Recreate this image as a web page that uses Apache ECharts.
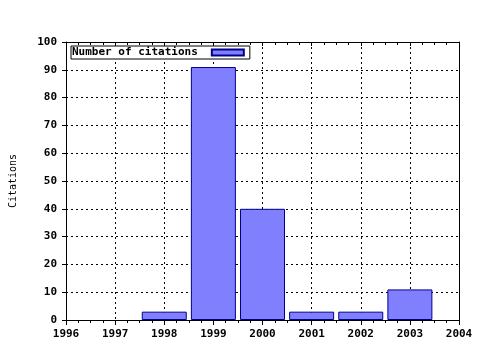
<!DOCTYPE html>
<html><head><meta charset="utf-8">
<script src="https://cdn.jsdelivr.net/npm/echarts@6/dist/echarts.min.js"></script>
<style>html,body{margin:0;padding:0;background:#fff}#c{width:480px;height:350px}</style>
</head><body><div id="c"></div>
<script>
const years = [1998, 1999, 2000, 2001, 2002, 2003];
const citations = [3, 91, 40, 3, 3, 11];
const seriesName = 'Number of citations';
const yTitle = 'Citations';

const font = 'DejaVu Sans Mono';
const chart = echarts.init(document.getElementById('c'));
const data = years.map((y, i) => [y, citations[i]]);
function blackLine() { return {show: true, onZero: false, lineStyle: {color: '#000', width: 1}}; }
chart.setOption({
  backgroundColor: '#fff',
  animation: false,
  grid: {left: 65, right: 21, top: 42, bottom: 30},
  legend: {
    left: 71, top: 46, padding: [1, 5, 1, 1], align: 'right',
    backgroundColor: '#fff', borderColor: '#000', borderWidth: 1,
    itemWidth: 32, itemHeight: 6, z: 10,
    textStyle: {fontFamily: font, fontWeight: 'bold', fontSize: 11, color: '#000', padding: [0, 9, 0, 0]},
    data: [{name: seriesName, icon: 'rect'}]
  },
  xAxis: [{
    type: 'value', min: 1996, max: 2004, interval: 1, position: 'bottom',
    axisLine: blackLine(),
    axisTick: {show: true, length: 5, lineStyle: {color: '#000', width: 1}},
    minorTick: {show: true, splitNumber: 4, length: 3, lineStyle: {color: '#000', width: 1}},
    axisLabel: {fontFamily: font, fontWeight: 'bold', fontSize: 11, color: '#000', margin: 9,
                formatter: v => String(v)},
    splitLine: {show: true, lineStyle: {color: '#000', type: [2, 3], width: 1}}
  }, {
    type: 'value', min: 1996, max: 2004, interval: 1, position: 'top',
    axisLine: blackLine(),
    axisTick: {show: true, inside: true, length: 4, lineStyle: {color: '#000', width: 1}},
    minorTick: {show: true, splitNumber: 4, length: 3, lineStyle: {color: '#000', width: 1}},
    axisLabel: {show: false}, splitLine: {show: false}
  }],
  yAxis: [{
    type: 'value', min: 0, max: 100, interval: 10, position: 'left',
    name: yTitle, nameLocation: 'middle', nameRotate: 90, nameGap: 48,
    nameTextStyle: {fontFamily: font, fontSize: 10, color: '#000'},
    axisLine: blackLine(),
    axisTick: {show: true, length: 4, lineStyle: {color: '#000'}},
    axisLabel: {fontFamily: font, fontWeight: 'bold', fontSize: 11, color: '#000', margin: 9},
    splitLine: {show: true, lineStyle: {color: '#000', type: [2, 3], width: 1}}
  }, {
    type: 'value', min: 0, max: 100, interval: 10, position: 'right',
    axisLine: blackLine(),
    axisTick: {show: false}, axisLabel: {show: false}, splitLine: {show: false}
  }],
  series: [{
    type: 'bar', name: seriesName, data: data, barWidth: 45,
    itemStyle: {color: '#8080ff', borderColor: '#00008c', borderWidth: 1}
  }]
});
</script></body></html>
